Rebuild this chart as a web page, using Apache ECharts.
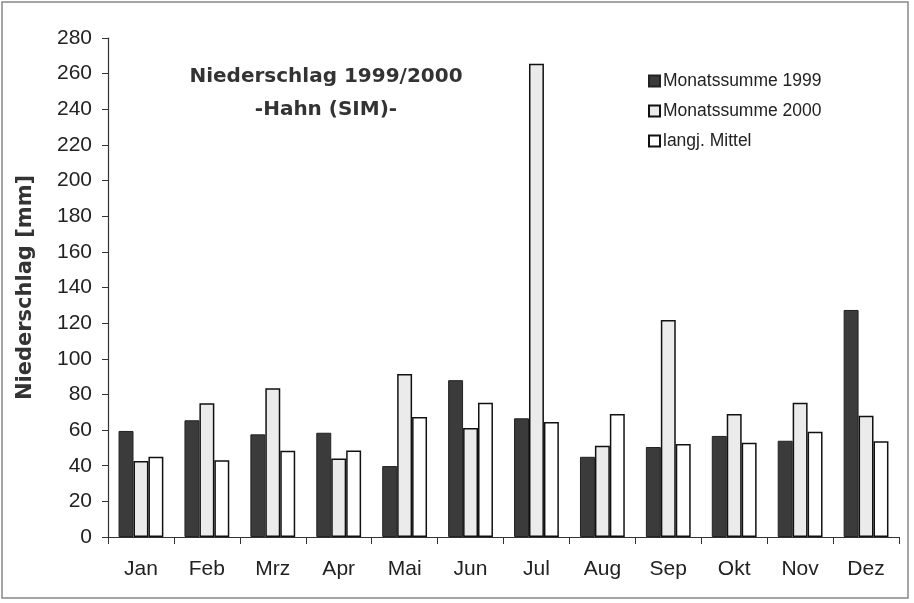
<!DOCTYPE html>
<html>
<head>
<meta charset="utf-8">
<script src="https://cdn.jsdelivr.net/npm/echarts@6/dist/echarts.min.js"></script>
<style>
    html, body { margin: 0; padding: 0; background: #fff; }
    #chart { width: 914px; height: 603px; }
</style>
</head>
<body>
<div id="chart"></div>
<script>
    // Monate
    var months = ['Jan', 'Feb', 'Mrz', 'Apr', 'Mai', 'Jun', 'Jul', 'Aug', 'Sep', 'Okt', 'Nov', 'Dez'];
    // Niederschlag in mm
    var sum1999 = [59.5, 65.5, 57.6, 58.5, 39.8, 88, 66.6, 45, 50.5, 56.7, 54, 127.4];
    var sum2000 = [42.6, 75, 83.4, 44, 91.5, 61.2, 265.5, 51.2, 121.8, 69, 75.4, 68];
    var mittel = [45, 43, 48.4, 48.6, 67.3, 75.4, 64.5, 69, 52.2, 52.9, 59.1, 53.7];

    var chart = echarts.init(document.getElementById('chart'));
    chart.setOption({
        animation: false,
        backgroundColor: '#fff',
        textStyle: { fontFamily: 'Liberation Sans, Arial, sans-serif' },
        title: {
            text: 'Niederschlag 1999/2000\n-Hahn (SIM)-',
            left: 321,
            top: 55,
            textAlign: 'center',
            textStyle: {
                fontFamily: 'DejaVu Sans',
                fontSize: 20,
                fontWeight: 'bold',
                color: '#333',
                lineHeight: 33
            }
        },
        legend: {
            orient: 'vertical',
            left: 643,
            top: 67,
            icon: 'rect',
            itemWidth: 11,
            itemHeight: 11,
            itemGap: 12,
            selectedMode: false,
            textStyle: { fontSize: 17.5, color: '#222', padding: [0, 0, 0, -2] },
            data: ['Monatssumme 1999', 'Monatssumme 2000', 'langj. Mittel']
        },
        grid: {
            left: 108,
            right: 15,
            top: 38,
            bottom: 66
        },
        xAxis: {
            type: 'category',
            data: months,
            axisLine: { lineStyle: { color: '#333', width: 1.2 } },
            axisTick: { show: true, interval: 0, length: 7, lineStyle: { color: '#333' } },
            axisLabel: { fontSize: 21, color: '#222', margin: 22 }
        },
        yAxis: {
            type: 'value',
            min: 0,
            max: 280,
            interval: 20,
            name: 'Niederschlag [mm]',
            nameLocation: 'middle',
            nameGap: 72,
            nameTextStyle: { fontFamily: 'DejaVu Sans', fontSize: 21, fontWeight: 'bold', color: '#333' },
            axisLine: { show: true, lineStyle: { color: '#333', width: 1.2 } },
            axisTick: { show: true, length: 6, lineStyle: { color: '#333' } },
            axisLabel: { fontSize: 21, color: '#222', margin: 16 },
            splitLine: { show: false }
        },
        series: [{
            name: 'Monatssumme 1999',
            type: 'bar',
            data: sum1999,
            barGap: '0%',
            barCategoryGap: '32%',
            itemStyle: { color: '#3b3b3b', borderColor: '#222', borderWidth: 1 }
        }, {
            name: 'Monatssumme 2000',
            type: 'bar',
            data: sum2000,
            itemStyle: { color: '#ebebeb', borderColor: '#111', borderWidth: 1.5 }
        }, {
            name: 'langj. Mittel',
            type: 'bar',
            data: mittel,
            itemStyle: { color: '#ffffff', borderColor: '#111', borderWidth: 1.5 }
        }],
        graphic: [{
            type: 'rect',
            shape: { x: 2, y: 2, width: 906, height: 596 },
            style: { fill: 'none', stroke: '#888', lineWidth: 1.5 },
            silent: true
        }]
    });
</script>
</body>
</html>
